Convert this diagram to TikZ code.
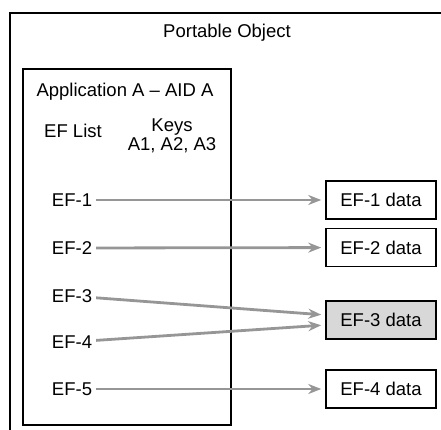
\documentclass[tikz,border=0pt]{standalone}
\usepackage{fontspec}
\setmainfont{Liberation Sans}
\usetikzlibrary{arrows.meta}
\definecolor{linkgray}{RGB}{150,150,150}
\definecolor{datagray}{RGB}{216,216,216}
\begin{document}
\begin{tikzpicture}
  [
  x=1pt, y=-1pt,
  font=\fontsize{18.5}{22}\selectfont, line width=1.5pt, draw=black,
  datablock/.style={rectangle, draw=black, inner sep=0pt, minimum width=110pt, minimum height=38pt},
  link/.style={draw=linkgray, line width=2.8pt, -{Stealth[length=13pt,width=10pt]}, shorten >=4pt}
  ]
\useasboundingbox (0,0) rectangle (441,430);

% portable object (cut off at right and bottom)
\draw (10,430) |- (441,13);
\node (po) at (227,33) {Portable Object};

% application box
\node[rectangle, draw=black, minimum width=208pt, minimum height=356pt] (app) at (127,247) {};
\node (appname) at (125,92) {Application A -- AID A};
\node (eflist) at (73,131) {EF List};
\node[align=center] (keys) at (172,136) {Keys\\[-3pt]A1, A2, A3};

\foreach \i/\y in {1/200,2/248,3/296,4/342,5/389} {
  \node (ef\i) at (72,\y) {EF-\i};
}

\foreach \i/\y in {1/200,2/247.5,4/389} {
  \node[datablock] (d\i) at (381,\y) {EF-\i\ data};
}
\node[datablock,fill=datagray] (d3) at (381,320) {EF-3 data};

\foreach \i/\j in {1/1,2/2,5/4} {
  \draw[link] (ef\i) -- (d\j);
}
\draw[link] (ef3) -- ([yshift=5pt]d3.west);
\draw[link] (ef4) -- ([yshift=-5pt]d3.west);

\end{tikzpicture}
\end{document}
